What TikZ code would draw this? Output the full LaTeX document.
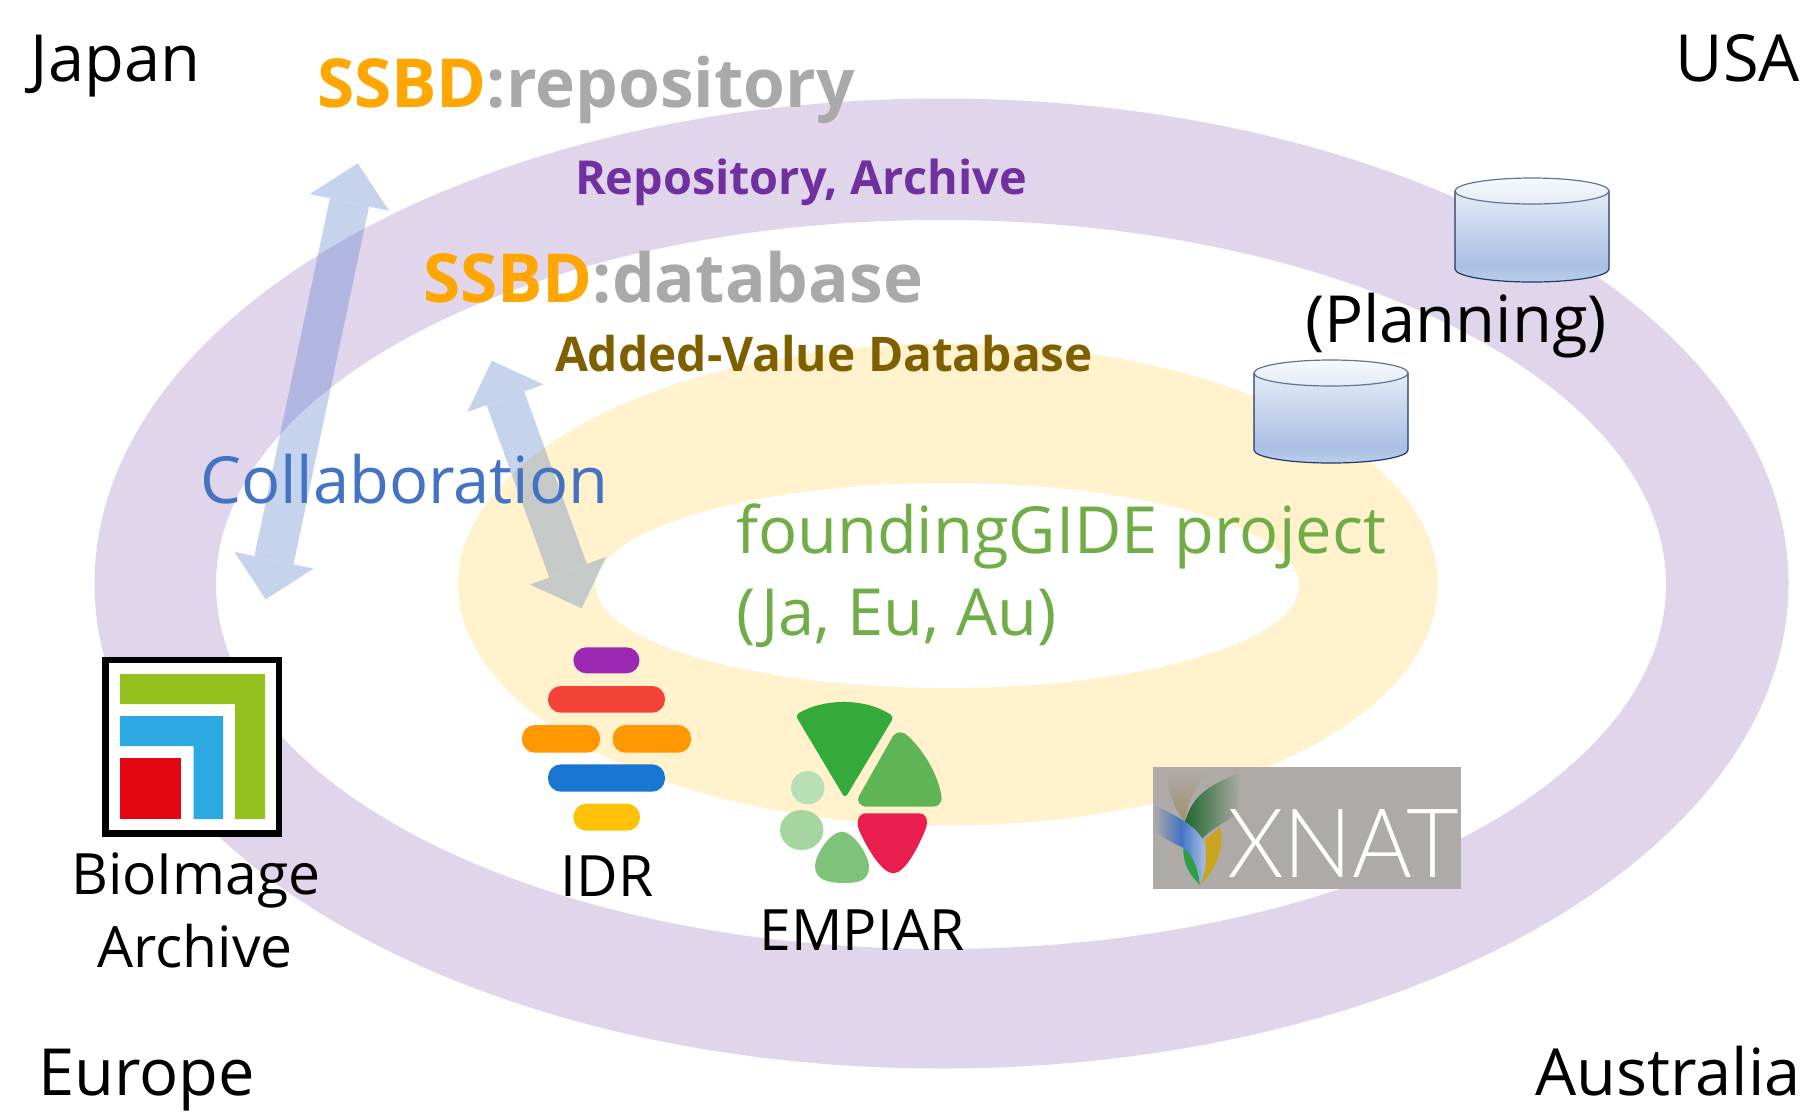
\documentclass[tikz,border=0pt]{standalone}
\usepackage{fontspec}
\usetikzlibrary{arrows.meta}
\setmainfont{Open Sans}
\newfontfamily\xnatfont[FakeStretch=0.95]{Lato Light}
\definecolor{ringpurple}{HTML}{E1D5EC}
\definecolor{ringyellow}{HTML}{FFF2CC}
\definecolor{ssbdorange}{HTML}{FFA600}
\definecolor{ssbdgray}{HTML}{A9A9A9}
\definecolor{repopurple}{HTML}{7030A0}
\definecolor{addedbrown}{HTML}{7F6000}
\definecolor{collabblue}{HTML}{4472C4}
\definecolor{foundgreen}{HTML}{70AD47}
\definecolor{cyledge}{HTML}{203864}
\definecolor{xnatgray}{HTML}{ADAAA8}
\definecolor{xnatbrown}{HTML}{A08E66}
\definecolor{xnatdark}{HTML}{20692E}
\definecolor{cylbot}{HTML}{BDCEEA}
\definecolor{cylmid}{HTML}{A9BFE3}
\definecolor{cyltop}{HTML}{E4EBF6}
\pgfdeclareverticalshading{cylbody}{100bp}{color(0bp)=(cylbot); color(25bp)=(cylbot); color(34bp)=(cylmid); color(75bp)=(cyltop); color(100bp)=(cyltop)}

\begin{document}
\begin{tikzpicture}[x=0.5pt,y=-0.5pt,
	place/.style={inner sep=0pt, outer sep=0pt, anchor=base west, text=black, font=\fontsize{32.5}{38}\selectfont},
	placeright/.style={place, anchor=base east},
	logoname/.style={inner sep=0pt, outer sep=0pt, anchor=base, text=black, font=\fontsize{28.5}{34}\selectfont},
	ssbd/.style={place, text=ssbdgray, font=\fontsize{33.8}{40}\selectfont\bfseries},
	kind/.style={place, font=\fontsize{23.4}{30}\selectfont\bfseries},
	dbbody/.style={draw=cyledge, line width=0.6pt, shading=cylbody},
	dbcap/.style={draw=cyledge!70, line width=0.6pt, top color=white!70!cyltop, bottom color=cyltop},
	collab/.style={collabblue, line width=20pt, {Triangle[length=20pt,width=40.5pt,line width=0pt]}-{Triangle[length=20pt,width=40.5pt,line width=0pt]}}]

	\useasboundingbox (0,0) rectangle (1808,1116);

	\fill[ringpurple, even odd rule] (941.5,583.5) ellipse [x radius=847, y radius=485] (941,584.5) ellipse [x radius=725, y radius=364.5];
	\fill[ringyellow, even odd rule] (948,584.5) ellipse [x radius=490, y radius=241] (947.5,585.5) ellipse [x radius=352, y radius=102.5];

	\coordinate (repotip) at (357.7,163.3);
	\coordinate (biatip) at (265.7,599.3);
	\coordinate (dbtip) at (491.7,360.7);
	\coordinate (idrtip) at (581.7,608.3);
	\begin{scope}[transparency group, opacity=0.31]
		\draw[collab] (repotip) -- (biatip);
	\end{scope}
	\begin{scope}[transparency group, opacity=0.31]
		\draw[collab] (dbtip) -- (idrtip);
	\end{scope}

	\shade[dbbody] (1455,191) -- (1455,269) arc [start angle=180, end angle=0, x radius=77, y radius=13] -- (1609,191) -- cycle;
	\draw[dbcap] (1532,191) ellipse [x radius=77, y radius=13];
	\shade[dbbody] (1254,373) -- (1254,450) arc [start angle=180, end angle=0, x radius=77, y radius=13] -- (1408,373) -- cycle;
	\draw[dbcap] (1331,373) ellipse [x radius=77, y radius=13];

	\node[place] (japan) at (31,81) {Japan};
	\node[placeright] (usa) at (1800,81) {USA};
	\node[place] (europe) at (38,1095) {Europe};
	\node[placeright] (australia) at (1801,1095) {Australia};
	\node[ssbd] (ssbdrepo) at (317,107) {{\color{ssbdorange}SSBD}:repository};
	\node[kind, text=repopurple] (repoarch) at (575,194) {Repository, Archive};
	\node[ssbd] (ssbddb) at (423,302) {{\color{ssbdorange}SSBD}:database};
	\node[kind, text=addedbrown, font=\fontsize{23.9}{30}\selectfont\bfseries] (addedval) at (555,371) {Added-Value Database};
	\node[place] (planning) at (1305,342) {(Planning)};
	\node[place, text=collabblue] (collabtext) at (200,503) {Collaboration};
	\node[place, text=foundgreen] (founding) at (736,553) {foundingGIDE project};
	\node[place, text=foundgreen] (jaeuau) at (736,635) {(Ja, Eu, Au)};

	\fill[black] (102.4,656.7) rectangle (282,836.7);
	\fill[white] (109,663) rectangle (275.5,830);
	\fill[fill={rgb,255:red,149;green,193;blue,31}] (119.8,674) -- (265,674) -- (265,819) -- (235,819) -- (235,704) -- (119.8,704) -- cycle;
	\fill[fill={rgb,255:red,44;green,169;blue,225}] (119.8,716) -- (223,716) -- (223,819) -- (193.5,819) -- (193.5,746) -- (119.8,746) -- cycle;
	\fill[fill={rgb,255:red,227;green,6;blue,19}] (119.8,757.7) rectangle (181,819);
	\node[logoname] (bioimage) at (196,894) {BioImage};
	\node[logoname] (bioarchive) at (195,967) {Archive};

	\fill[fill={rgb,255:red,156;green,39;blue,176}, rounded corners=6.5pt] (573.4,647.3) rectangle (639.5,673.3);
	\fill[fill={rgb,255:red,244;green,67;blue,54}, rounded corners=6.5pt] (548,686) rectangle (665,712.7);
	\fill[fill={rgb,255:red,255;green,152;blue,0}, rounded corners=6.5pt] (522,725) rectangle (600,752.7);
	\fill[fill={rgb,255:red,255;green,152;blue,0}, rounded corners=6.5pt] (612.7,725) rectangle (691,752.7);
	\fill[fill={rgb,255:red,25;green,118;blue,210}, rounded corners=6.5pt] (548,764.3) rectangle (665,791.7);
	\fill[fill={rgb,255:red,255;green,193;blue,7}, rounded corners=6.5pt] (573.4,803.7) rectangle (640,830.7);
	\node[logoname] (idr) at (607,896) {IDR};

	\fill[fill={rgb,255:red,51;green,170;blue,58}, rounded corners=2pt] (795.3,715) .. controls (825,698) and (865,698) .. (894,716.7) -- (845,798.3) -- cycle;
	\fill[fill={rgb,255:red,95;green,181;blue,85}] (893,736) .. controls (897,731) and (903,731) .. (908,736) .. controls (925,752) and (938,775) .. (941.7,797) .. controls (942,803) and (938,806.7) .. (933,806.7) -- (867,806.7) .. controls (860,806.7) and (856,801) .. (859,796) -- cycle;
	\fill[fill={rgb,255:red,233;green,30;blue,79}] (866.7,813.3) -- (918,813.3) .. controls (928,813) and (928,822) .. (926,828) .. controls (918,848) and (905,873) .. (893.3,873.3) .. controls (882,873) and (868,850) .. (859,830) .. controls (856,822) and (858,813) .. (866.7,813.3) -- cycle;
	\fill[fill={rgb,255:red,185;green,224;blue,181}] (807.7,787.7) circle [radius=16.7];
	\fill[fill={rgb,255:red,165;green,214;blue,160}] (801.7,830) ellipse [x radius=21.7, y radius=20];
	\fill[fill={rgb,255:red,125;green,196;blue,122}] (841.7,831.7) .. controls (855,832) and (870,858) .. (869,868) .. controls (868,880) and (860,883) .. (845,883) .. controls (828,883) and (815,880) .. (815,866) .. controls (815,855) and (830,832) .. (841.7,831.7) -- cycle;
	\node[logoname] (empiar) at (862,950) {EMPIAR};

	\fill[xnatgray] (1153,766.7) rectangle (1461,888.5);
	\shade[top color=xnatgray, bottom color=xnatbrown] (1169,772) .. controls (1167,790) and (1172,805) .. (1185,822) .. controls (1187,805) and (1192,790) .. (1207,773) -- cycle;
	\shade[left color=xnatdark, middle color=xnatdark, right color=xnatgray] (1185,823) .. controls (1190,800) and (1205,785) .. (1241,773) -- (1236,815) .. controls (1220,825) and (1210,830) .. (1201.7,839.3) .. controls (1197,830) and (1190,826) .. (1185,823) -- cycle;
	\fill[fill={rgb,255:red,201;green,164;blue,28}] (1220,826.7) .. controls (1225,850) and (1215,870) .. (1200,885) .. controls (1207,865) and (1207,850) .. (1205,840) -- cycle;
	\fill[fill={rgb,255:red,47;green,158;blue,68}] (1183.3,848.3) .. controls (1183,865) and (1190,875) .. (1200,885) -- (1195,850) -- cycle;
	\shade[left color=xnatgray, right color=collabblue!40!white, middle color=collabblue] (1154,805) .. controls (1175,815) and (1195,825) .. (1203,840) .. controls (1208,855) and (1205,875) .. (1200,885) .. controls (1198,865) and (1190,850) .. (1180,846) .. controls (1170,842) and (1160,835) .. (1154,831.7) -- cycle;
	\node[inner sep=0pt, outer sep=0pt, anchor=base west, text=white, font=\fontsize{48}{50}\xnatfont] (xnat) at (1227,877) {XNAT};
\end{tikzpicture}
\end{document}
